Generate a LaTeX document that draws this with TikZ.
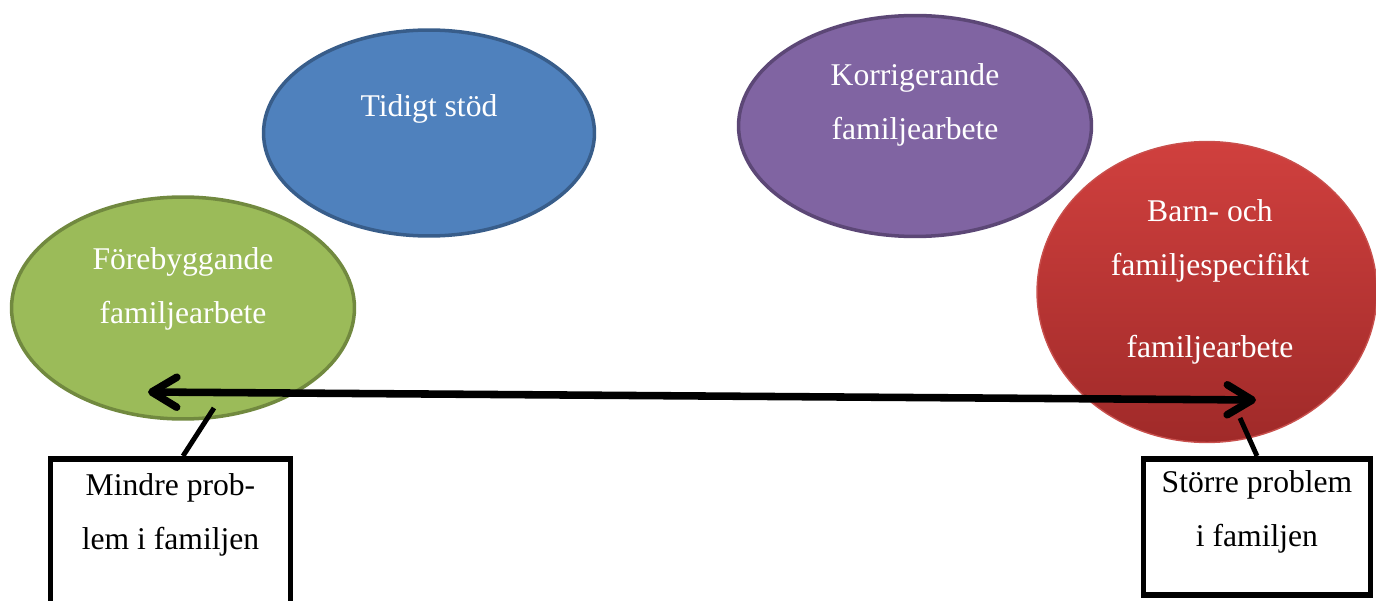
\documentclass[tikz,border=0pt]{standalone}
\usepackage{fontspec}
\setmainfont{Liberation Serif}
\usetikzlibrary{shapes.geometric,arrows.meta}

\definecolor{leaf}{HTML}{9BBB59}
\definecolor{leafline}{HTML}{71893F}
\definecolor{sky}{HTML}{4F81BD}
\definecolor{skyline}{HTML}{385D8A}
\definecolor{plum}{HTML}{8064A2}
\definecolor{plumline}{HTML}{5C4776}
\definecolor{redtop}{HTML}{D0403E}
\definecolor{redbot}{HTML}{A02A29}
\definecolor{redline}{HTML}{C8504D}

\tikzset{
  blob/.style={ellipse, draw, line width=2pt, inner sep=0pt},
  lbl/.style={text=white, align=center, font=\fontsize{18}{30.7}\selectfont},
  tagbox/.style={draw, line width=3.3pt, anchor=north},
  tagtxt/.style={align=center, anchor=north, inner sep=0pt, font=\fontsize{18}{30.7}\selectfont},
  barb/.tip={Straight Barb[length=5mm,width=6mm,round]},
}

\begin{document}
\begin{tikzpicture}[x=0.02cm,y=-0.02cm]
\useasboundingbox (0,0) rectangle (1376,601);

% the four kinds of family work
\node[blob, fill=sky, draw=skyline, minimum width=6.62cm, minimum height=4.12cm] (tidig) at (429,133) {};
\node[blob, fill=plum, draw=plumline, minimum width=7.06cm, minimum height=4.42cm] (korr) at (915,126) {};
\node[blob, fill=leaf, draw=leafline, minimum width=6.86cm, minimum height=4.44cm] (fore) at (183,308) {};
\node[blob, top color=redtop, bottom color=redbot, draw=redline, line width=0.8pt,
      minimum width=6.8cm, minimum height=6.02cm] (barn) at (1207,292) {};

\node[lbl] at (429,109) {Tidigt stöd};
\node[lbl] at (915,105) {Korrigerande\\familjearbete};
\node[lbl] at (183,289) {Förebyggande\\familjearbete};
\node[lbl] at (1210,241) {Barn- och\\familjespecifikt};
\node[lbl] at (1210,350) {familjearbete};

% scale from small to big problems
\coordinate (aL) at (148,392);
\coordinate (aR) at (1256,400);
\draw[line width=4.3pt, barb-barb] (aL) -- (aR);

\node[tagbox, minimum width=4.8cm, minimum height=3.4cm] (mindre) at (170.5,456) {};
\node[tagbox, minimum width=4.54cm, minimum height=2.72cm] (storre) at (1257,456) {};

\node[tagtxt] at (170.5,473) {Mindre prob-\\lem i familjen};
\node[tagtxt] at (1257,470) {Större problem\\i familjen};

\coordinate (mtip) at (214,408);
\coordinate (stip) at (1240,418);
\draw[line width=2.8pt] (mtip) -- ([xshift=0.25cm]mindre.north);
\draw[line width=2.8pt] (stip) -- (storre.north);

\end{tikzpicture}
\end{document}
